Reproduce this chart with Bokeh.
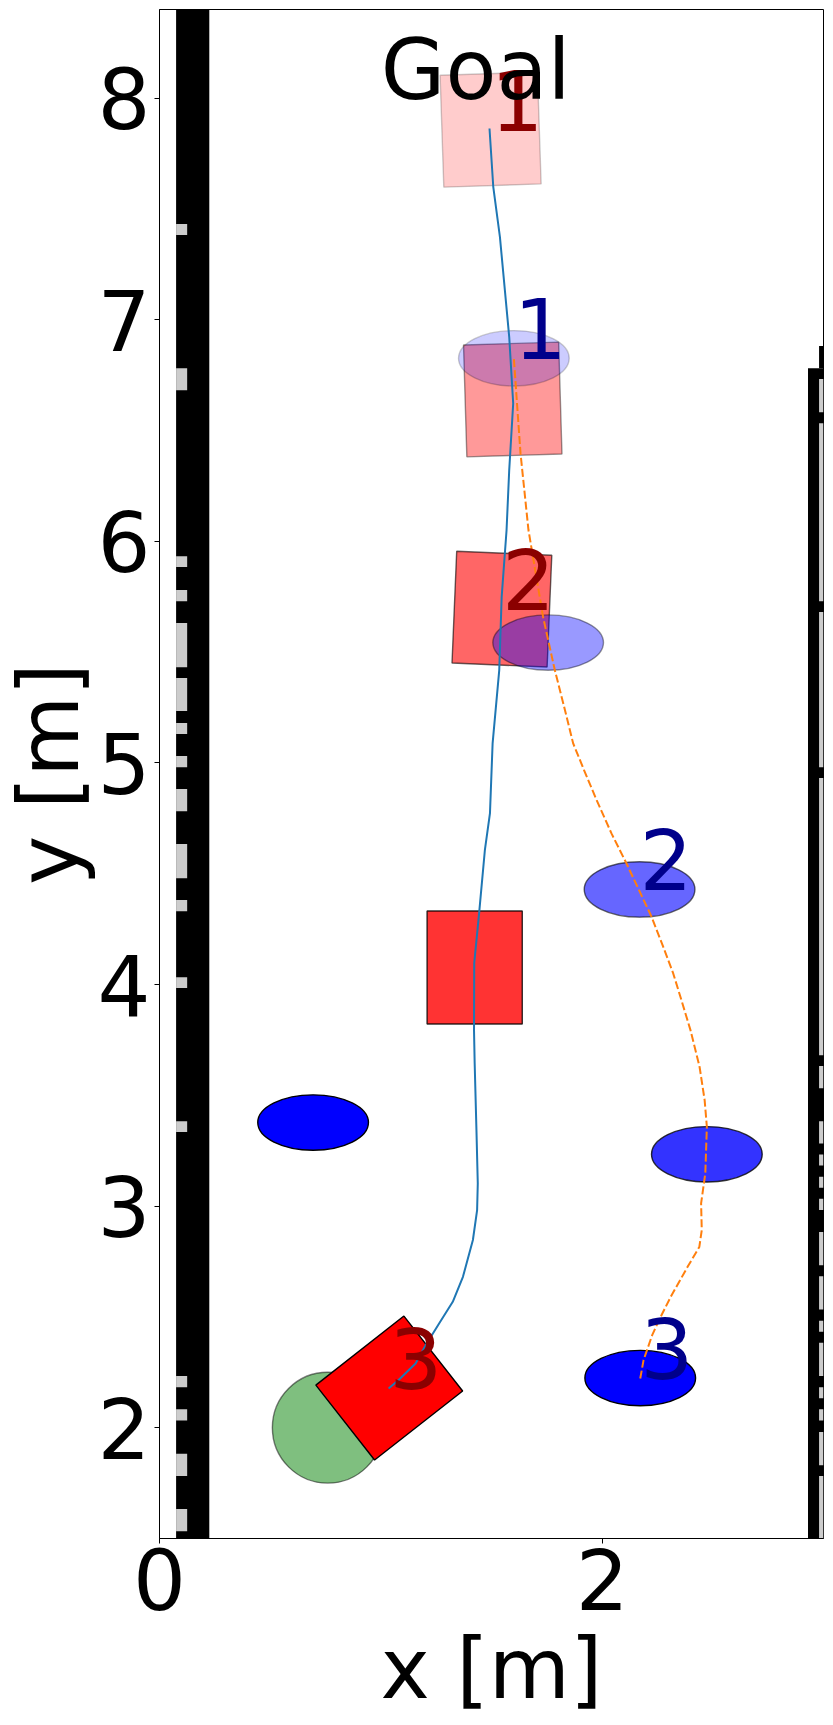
from bokeh.plotting import figure
from bokeh.embed import file_html
from bokeh.resources import INLINE
from bokeh.models import ColumnDataSource, FixedTicker

X_TICKS = [0, 2]
Y_TICKS = [2, 3, 4, 5, 6, 7, 8]

left_gray_bottom = [7.382, 6.682, 5.884, 5.730, 5.432, 5.234, 5.130, 4.981, 4.782, 4.480, 4.331, 3.984, 3.334, 2.183, 2.033, 1.782, 1.533]
left_gray_top    = [7.432, 6.781, 5.933, 5.780, 5.631, 5.383, 5.180, 5.031, 4.882, 4.634, 4.381, 4.033, 3.383, 2.233, 2.083, 1.882, 1.633]
right_gray_bottom = [6.582, 5.730, 4.981, 3.681, 3.532, 3.283, 3.183, 3.083, 2.983, 2.733, 2.533, 2.433, 2.233, 2.133, 2.033, 1.831, 1.500]
right_gray_top    = [6.732, 6.533, 5.681, 4.932, 3.632, 3.383, 3.233, 3.133, 3.033, 2.883, 2.683, 2.483, 2.383, 2.183, 2.083, 1.981, 1.782]

robot_x = [1.038, 1.424, 1.547, 1.596, 1.496]
robot_y = [2.179, 4.077, 5.694, 6.640, 7.858]
robot_angle = [-51.9, 0.0, -2.4, 1.7, 1.9]
robot_w = [0.43, 0.43, 0.43, 0.43, 0.44]
robot_h = [0.505, 0.51, 0.505, 0.505, 0.505]
robot_alpha = [1.0, 0.8, 0.6, 0.4, 0.2]
robot_label_x = [1.038, 1.547, 1.496]
robot_label_y = [2.179, 5.694, 7.858]
robot_labels = ["3", "2", "1"]

ped_x = [0.694, 2.172, 2.473, 2.169, 1.756, 1.601]
ped_y = [3.377, 2.224, 3.234, 4.429, 5.543, 6.826]
ped_alpha = [1.0, 1.0, 0.8, 0.6, 0.4, 0.2]
ped_label_x = [2.172, 2.169, 1.601]
ped_label_y = [2.224, 4.429, 6.826]
ped_labels = ["3", "2", "1"]

blue_x = [1.035, 1.080, 1.157, 1.203, 1.264, 1.325, 1.371, 1.416, 1.435, 1.438, 1.432, 1.424, 1.421, 1.422, 1.444, 1.470, 1.493, 1.505, 1.535, 1.546, 1.568, 1.580, 1.598, 1.580, 1.538, 1.508, 1.491]
blue_y = [2.177, 2.215, 2.290, 2.373, 2.471, 2.568, 2.681, 2.847, 2.982, 3.102, 3.343, 3.644, 3.794, 4.097, 4.321, 4.606, 4.772, 5.088, 5.419, 5.750, 6.050, 6.321, 6.622, 6.923, 7.374, 7.600, 7.863]
orange_x = [2.172, 2.187, 2.226, 2.264, 2.310, 2.386, 2.439, 2.450, 2.447, 2.466, 2.473, 2.463, 2.440, 2.399, 2.358, 2.321, 2.276, 2.223, 2.110, 2.042, 1.975, 1.918, 1.869, 1.832, 1.786, 1.733, 1.667, 1.631, 1.601]
orange_y = [2.222, 2.305, 2.418, 2.500, 2.591, 2.726, 2.816, 2.892, 3.012, 3.148, 3.358, 3.478, 3.629, 3.794, 3.930, 4.050, 4.170, 4.306, 4.546, 4.682, 4.832, 4.968, 5.088, 5.238, 5.419, 5.659, 6.051, 6.398, 6.825]

FS = "83.33px"
FONT = "DejaVu Sans"
TXT_SHIFT = -30

p = figure(frame_width=664, frame_height=1529, x_range=(0, 3), y_range=(1.5, 8.4),
           output_backend="svg", toolbar_location=None,
           min_border_left=150, min_border_right=1, min_border_top=1, min_border_bottom=170,
           x_axis_label="x [m]", y_axis_label="y [m]", background_fill_color="white",
           margin=(8, 0, 0, -2))
p.grid.visible = False
p.outline_line_color = "black"
p.outline_line_width = 1

for ax, ticks in ((p.xaxis[0], X_TICKS), (p.yaxis[0], Y_TICKS)):
    ax.ticker = FixedTicker(ticks=ticks)
    ax.major_label_text_font = FONT
    ax.major_label_text_font_size = FS
    ax.major_label_text_color = "black"
    ax.axis_label_text_font = FONT
    ax.axis_label_text_font_size = FS
    ax.axis_label_text_font_style = "normal"
    ax.axis_label_text_color = "black"
    ax.major_tick_out = 5
    ax.major_tick_in = 0
    ax.minor_tick_line_color = None
    ax.axis_line_color = "black"
    ax.major_tick_line_width = 1
    ax.major_tick_line_color = "black"
    ax.major_label_standoff = 4
    ax.axis_label_standoff = 4
p.xaxis[0].major_label_orientation = "horizontal"
p.xaxis[0].axis_label_standoff = 8
p.yaxis[0].axis_label_standoff = -4

# walls
p.quad(left=[0.075], right=[0.225], bottom=[1.5], top=[8.4], fill_color="black", line_color=None)
p.quad(left=[0.075] * len(left_gray_top), right=[0.125] * len(left_gray_top), bottom=left_gray_bottom, top=left_gray_top,
       fill_color="#cccccc", line_color=None)
p.quad(left=[2.93, 2.98], right=[3.0, 3.0], bottom=[1.5, 6.781], top=[6.781, 6.881], fill_color="black", line_color=None)
p.quad(left=[2.98] * len(right_gray_top), right=[3.0] * len(right_gray_top), bottom=right_gray_bottom, top=right_gray_top,
       fill_color="#cccccc", line_color=None)

# start circle
p.ellipse(x=[0.76], y=[2.0], width=[0.5], height=[0.5], fill_color="green", fill_alpha=0.5,
          line_color="black", line_alpha=0.5, line_width=1.4)

p.rect(x="x", y="y", width="w", height="h", angle="a", angle_units="deg",
       source=ColumnDataSource(dict(x=robot_x, y=robot_y, w=robot_w, h=robot_h, a=robot_angle, al=robot_alpha)),
       fill_color="red", fill_alpha="al", line_color="black", line_alpha="al", line_width=1.4)
p.ellipse(x="x", y="y", width=0.5, height=0.25,
          source=ColumnDataSource(dict(x=ped_x, y=ped_y, al=ped_alpha)),
          fill_color="blue", fill_alpha="al", line_color="black", line_alpha="al", line_width=1.4)

p.line(blue_x, blue_y, line_color="#1f77b4", line_width=2)
p.line(orange_x, orange_y, line_color="#ff7f0e", line_width=2, line_dash="8 3")

p.text(x=robot_label_x, y=robot_label_y, text=robot_labels, text_color="#8b0000", y_offset=TXT_SHIFT,
       text_font_size=FS, text_baseline="alphabetic", text_align="left", text_font={"value": FONT})
p.text(x=ped_label_x, y=ped_label_y, text=ped_labels, text_color="#00008b", y_offset=TXT_SHIFT,
       text_font_size=FS, text_baseline="alphabetic", text_align="left", text_font={"value": FONT})
p.text(x=[1.0], y=[8.0], text=["Goal"], text_color="black", y_offset=TXT_SHIFT + 2,
       text_font_size=FS, text_baseline="alphabetic", text_align="left", text_font={"value": FONT})

open("out.html", "w").write(file_html(p, INLINE))
